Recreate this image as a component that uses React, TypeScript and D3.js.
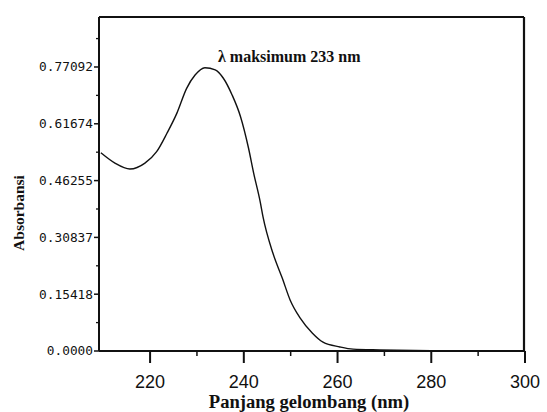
import React from "react";
import * as d3 from "d3";

const wavelength = [209.5, 212.5, 215.7, 218.9, 221.4, 223.6, 225.7, 227.8, 229.6, 231.7, 233.9, 235.6, 237.5, 239.3, 241.0, 242.1, 243.5, 244.1, 246.2, 248.2, 249.9, 252.0, 254.6, 256.9, 260.5, 263.3, 269, 280, 290, 300];
const absorbance = [0.538, 0.510, 0.494, 0.510, 0.541, 0.591, 0.645, 0.713, 0.749, 0.769, 0.763, 0.741, 0.695, 0.636, 0.551, 0.483, 0.405, 0.364, 0.266, 0.198, 0.138, 0.090, 0.049, 0.024, 0.011, 0.005, 0.003, 0.001, 0.0005, 0.0];
const yTickValues = [0, 0.15418, 0.30837, 0.46255, 0.61674, 0.77092];
const yTickLabels = ["0.0000", "0.15418", "0.30837", "0.46255", "0.61674", "0.77092"];
const xTickValues = [220, 240, 260, 280, 300];
const xMinorValues = [230, 250, 270, 290];
const annotation = "λ maksimum 233 nm";
const xTitle = "Panjang gelombang (nm)";
const yTitle = "Absorbansi";

export default function App() {
  const W = 547, H = 412;
  const left = 99, right = 524, top = 17, bottom = 351;
  const x = d3.scaleLinear().domain([209.1, 300]).range([left, right + 1]);
  const y = d3.scaleLinear().domain([0, 0.9066]).range([bottom, top]);
  const pts = wavelength.map((w, i) => [w, absorbance[i]] as [number, number]);
  const line = d3.line<[number, number]>().x(d => x(d[0])).y(d => y(d[1])).curve(d3.curveMonotoneX);
  const yMinor = yTickValues.map(v => v + 0.07709).filter(v => v < 0.9);

  return (
    <svg width={W} height={H} style={{ position: "absolute", left: 0, top: 0, background: "#fff" }}>
      <rect x={0} y={0} width={W} height={H} fill="#fff" />
      {/* frame */}
      <line x1={left} y1={top} x2={right} y2={top} stroke="#111" strokeWidth={1.8} />
      <line x1={right} y1={top} x2={right} y2={bottom} stroke="#111" strokeWidth={2.2} />
      <line x1={left} y1={top} x2={left} y2={bottom} stroke="#111" strokeWidth={2} />
      <line x1={left} y1={bottom} x2={right} y2={bottom} stroke="#111" strokeWidth={2} />
      {/* y ticks */}
      {yTickValues.map((v, i) => (
        <g key={"y" + i}>
          <line x1={left - 5} x2={left} y1={y(v)} y2={y(v)} stroke="#111" strokeWidth={1.5} />
          <text x={left - 6} y={y(v)} dy="0.35em" textAnchor="end" fontFamily="DejaVu Sans Mono" fontSize={12.8} fill="#111">{yTickLabels[i]}</text>
        </g>
      ))}
      {yMinor.map((v, i) => (
        <line key={"ym" + i} x1={left - 3} x2={left} y1={y(v)} y2={y(v)} stroke="#111" strokeWidth={1.3} />
      ))}
      {/* x ticks */}
      {xTickValues.map((v, i) => (
        <g key={"x" + i}>
          <line x1={x(v)} x2={x(v)} y1={bottom} y2={bottom + 12} stroke="#111" strokeWidth={2} />
          <text x={x(v)} y={387.5} textAnchor="middle" fontFamily="Liberation Sans" fontSize={18} fill="#111">{v}</text>
        </g>
      ))}
      {xMinorValues.map((v, i) => (
        <line key={"xm" + i} x1={x(v)} x2={x(v)} y1={bottom} y2={bottom + 5} stroke="#111" strokeWidth={1.5} />
      ))}
      {/* curve */}
      <path d={line(pts) || ""} fill="none" stroke="#111" strokeWidth={1.4} />
      {/* texts */}
      <text x={218} y={62} fontFamily="Liberation Serif" fontWeight="bold" fontSize={16} fill="#111">{annotation}</text>
      <text x={309} y={408} textAnchor="middle" fontFamily="Liberation Serif" fontWeight="bold" fontSize={18.6} fill="#111">{xTitle}</text>
      <text transform={`translate(24,213) rotate(-90)`} textAnchor="middle" fontFamily="Liberation Serif" fontWeight="bold" fontSize={15.5} fill="#111">{yTitle}</text>
    </svg>
  );
}
